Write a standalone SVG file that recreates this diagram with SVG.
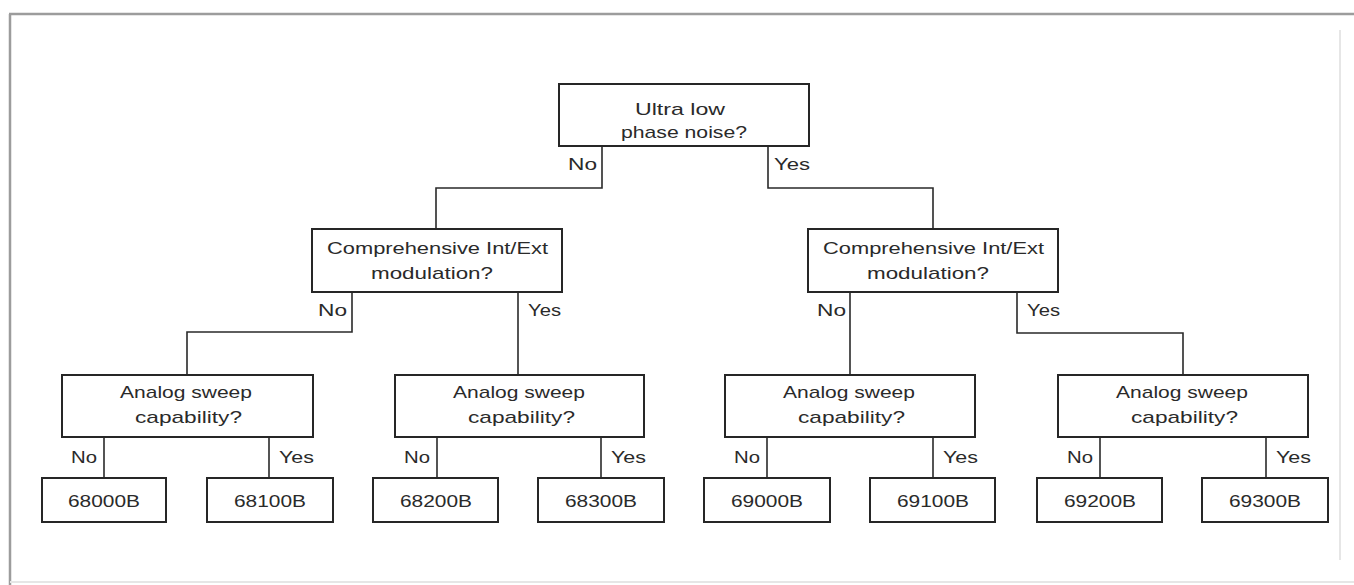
<svg xmlns="http://www.w3.org/2000/svg" width="1354" height="585" viewBox="0 0 1354 585">
<style>
.box{fill:#fff;stroke:#262626;stroke-width:2}
.con{fill:none;stroke:#2a2a2a;stroke-width:1.6}
text{font-family:"Liberation Sans",Arial,sans-serif;font-size:17px;fill:#2a2a2a}
.frame{fill:none;stroke:#9c9c9c;stroke-width:2.5}
.faint{fill:none;stroke:#e6e6e6;stroke-width:2}
</style>
<rect x="0" y="0" width="1354" height="585" fill="#fff"/>
<g id="frame">
<path class="frame" d="M9 14H1354"/>
<path class="frame" d="M10 14V585" stroke="#b0b0b0"/>
<path class="faint" d="M1340 30V560"/>
<path class="faint" d="M10 582H1354"/>
</g>
<g id="connectors">
<path class="con" d="M602 146V188H436V229"/>
<path class="con" d="M768 146V188H933V229"/>
<path class="con" d="M352 292V332H187V375"/>
<path class="con" d="M518 292V375"/>
<path class="con" d="M850 292V375"/>
<path class="con" d="M1017 292V333H1183V375"/>
<path class="con" d="M104 437V478"/>
<path class="con" d="M269 437V478"/>
<path class="con" d="M437 437V478"/>
<path class="con" d="M601 437V478"/>
<path class="con" d="M767 437V478"/>
<path class="con" d="M933 437V478"/>
<path class="con" d="M1100 437V478"/>
<path class="con" d="M1266 437V478"/>
</g>
<g id="labels">
<text x="568" y="170" textLength="29" lengthAdjust="spacingAndGlyphs">No</text>
<text x="774" y="170" textLength="36" lengthAdjust="spacingAndGlyphs">Yes</text>
<text x="318" y="316" textLength="29" lengthAdjust="spacingAndGlyphs">No</text>
<text x="528" y="316" textLength="33" lengthAdjust="spacingAndGlyphs">Yes</text>
<text x="817" y="316" textLength="29" lengthAdjust="spacingAndGlyphs">No</text>
<text x="1027" y="316" textLength="33" lengthAdjust="spacingAndGlyphs">Yes</text>
<text x="71" y="463" textLength="26" lengthAdjust="spacingAndGlyphs">No</text>
<text x="279" y="463" textLength="35" lengthAdjust="spacingAndGlyphs">Yes</text>
<text x="404" y="463" textLength="26" lengthAdjust="spacingAndGlyphs">No</text>
<text x="611" y="463" textLength="35" lengthAdjust="spacingAndGlyphs">Yes</text>
<text x="734" y="463" textLength="26" lengthAdjust="spacingAndGlyphs">No</text>
<text x="943" y="463" textLength="35" lengthAdjust="spacingAndGlyphs">Yes</text>
<text x="1067" y="463" textLength="26" lengthAdjust="spacingAndGlyphs">No</text>
<text x="1276" y="463" textLength="35" lengthAdjust="spacingAndGlyphs">Yes</text>
</g>
<g id="n-root">
<rect class="box" x="559" y="84" width="250" height="62"/>
<text x="635" y="115" textLength="90" lengthAdjust="spacingAndGlyphs">Ultra low</text>
<text x="621" y="138" textLength="126" lengthAdjust="spacingAndGlyphs">phase noise?</text>
</g>
<g id="n-mod-left">
<rect class="box" x="312" y="229" width="250" height="63"/>
<text x="327" y="254" textLength="221" lengthAdjust="spacingAndGlyphs">Comprehensive Int/Ext</text>
<text x="371" y="279" textLength="122" lengthAdjust="spacingAndGlyphs">modulation?</text>
</g>
<g id="n-mod-right">
<rect class="box" x="808" y="229" width="250" height="63"/>
<text x="823" y="254" textLength="221" lengthAdjust="spacingAndGlyphs">Comprehensive Int/Ext</text>
<text x="867" y="279" textLength="122" lengthAdjust="spacingAndGlyphs">modulation?</text>
</g>
<g id="n-sweep-1">
<rect class="box" x="62" y="375" width="251" height="62"/>
<text x="120" y="398" textLength="132" lengthAdjust="spacingAndGlyphs">Analog sweep</text>
<text x="135" y="423" textLength="107" lengthAdjust="spacingAndGlyphs">capability?</text>
</g>
<g id="n-sweep-2">
<rect class="box" x="395" y="375" width="249" height="62"/>
<text x="453" y="398" textLength="132" lengthAdjust="spacingAndGlyphs">Analog sweep</text>
<text x="468" y="423" textLength="107" lengthAdjust="spacingAndGlyphs">capability?</text>
</g>
<g id="n-sweep-3">
<rect class="box" x="725" y="375" width="250" height="62"/>
<text x="783" y="398" textLength="132" lengthAdjust="spacingAndGlyphs">Analog sweep</text>
<text x="798" y="423" textLength="107" lengthAdjust="spacingAndGlyphs">capability?</text>
</g>
<g id="n-sweep-4">
<rect class="box" x="1058" y="375" width="250" height="62"/>
<text x="1116" y="398" textLength="132" lengthAdjust="spacingAndGlyphs">Analog sweep</text>
<text x="1131" y="423" textLength="107" lengthAdjust="spacingAndGlyphs">capability?</text>
</g>
<g id="n-68000B"><rect class="box" x="42" y="478" width="124" height="44"/><text x="68" y="507" textLength="72" lengthAdjust="spacingAndGlyphs">68000B</text></g>
<g id="n-68100B"><rect class="box" x="207" y="478" width="126" height="44"/><text x="234" y="507" textLength="72" lengthAdjust="spacingAndGlyphs">68100B</text></g>
<g id="n-68200B"><rect class="box" x="373" y="478" width="125" height="44"/><text x="400" y="507" textLength="72" lengthAdjust="spacingAndGlyphs">68200B</text></g>
<g id="n-68300B"><rect class="box" x="538" y="478" width="126" height="44"/><text x="565" y="507" textLength="72" lengthAdjust="spacingAndGlyphs">68300B</text></g>
<g id="n-69000B"><rect class="box" x="704" y="478" width="126" height="44"/><text x="731" y="507" textLength="72" lengthAdjust="spacingAndGlyphs">69000B</text></g>
<g id="n-69100B"><rect class="box" x="870" y="478" width="125" height="44"/><text x="897" y="507" textLength="72" lengthAdjust="spacingAndGlyphs">69100B</text></g>
<g id="n-69200B"><rect class="box" x="1037" y="478" width="125" height="44"/><text x="1064" y="507" textLength="72" lengthAdjust="spacingAndGlyphs">69200B</text></g>
<g id="n-69300B"><rect class="box" x="1202" y="478" width="126" height="44"/><text x="1229" y="507" textLength="72" lengthAdjust="spacingAndGlyphs">69300B</text></g>
</svg>
